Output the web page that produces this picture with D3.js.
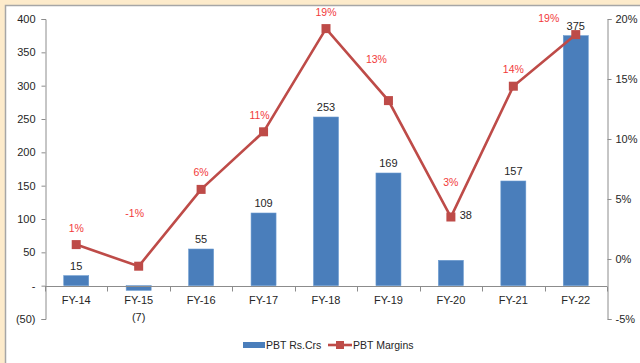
<!DOCTYPE html>
<html>
<head>
<meta charset="utf-8">
<script src="https://cdn.jsdelivr.net/npm/d3@7/dist/d3.min.js"></script>
<style>
  html, body { margin: 0; padding: 0; background: #FDEBCB; }
  svg { display: block; }
  text { font-family: "Liberation Sans", Arial, sans-serif; }
</style>
</head>
<body>
<svg id="chart" width="640" height="363"></svg>
<script>
// PBT (Rs. Crores) and PBT margin by fiscal year
const categories = ["FY-14", "FY-15", "FY-16", "FY-17", "FY-18", "FY-19", "FY-20", "FY-21", "FY-22"];
const pbtValues = [15, -7, 55, 109, 253, 169, 38, 157, 375];
const marginValues = [1.2, -0.6, 5.8, 10.6, 19.2, 13.2, 3.5, 14.4, 18.7];
const marginLabels = ["1%", "-1%", "6%", "11%", "19%", "13%", "3%", "14%", "19%"];
const leftTicks = [-50, 0, 50, 100, 150, 200, 250, 300, 350, 400];
const rightTicks = [-5, 0, 5, 10, 15, 20];
const seriesNames = ["PBT Rs.Crs", "PBT Margins"];

const svg = d3.select("#chart");
const W = 640, H = 363;
const plot = { left: 45, right: 607, top: 19, bottom: 319 };

const barColor = "#4A7EBB";
const lineColor = "#BE4B48";
const labelRed = "#F23A3A";
const axisColor = "#8C8C8C";
const textColor = "#262626";

// chart area
svg.append("rect").attr("x", 5).attr("y", 5).attr("width", W - 5).attr("height", H - 5)
  .attr("fill", "#fff");
svg.append("path").attr("d", `M5.5,${H}V5.5H${W}`).attr("fill", "none")
  .attr("stroke", "#A6A6A6").attr("stroke-width", 1.5);

const x = d3.scaleBand().domain(categories).range([plot.left, plot.right]).padding(0);
const yL = d3.scaleLinear().domain([-50, 400]).range([plot.bottom, plot.top]);
const yR = d3.scaleLinear().domain([-5, 20]).range([plot.bottom, plot.top]);

const fmtL = v => v === 0 ? "-" : v < 0 ? `(${Math.abs(v)})` : String(v);
const fmtR = v => `${v}%`;

// left axis
const gL = svg.append("g").attr("transform", `translate(${plot.left + 0.5},0)`)
  .call(d3.axisLeft(yL).tickValues(leftTicks).tickFormat(fmtL).tickSize(4).tickPadding(6));
// right axis
const gR = svg.append("g").attr("transform", `translate(${plot.right + 0.5},0)`)
  .call(d3.axisRight(yR).tickValues(rightTicks).tickFormat(fmtR).tickSize(4).tickPadding(4));
[gL, gR].forEach(g => {
  g.select(".domain").attr("stroke", axisColor);
  g.selectAll(".tick line").attr("stroke", axisColor);
  g.selectAll(".tick text").attr("fill", textColor).attr("font-size", 11);
});

// bars
const barW = x.bandwidth() * 0.4;
svg.append("g").selectAll("rect").data(categories).join("rect")
  .attr("x", (d, i) => x(d) + (x.bandwidth() - barW) / 2)
  .attr("y", (d, i) => yL(Math.max(0, pbtValues[i])))
  .attr("width", barW)
  .attr("height", (d, i) => Math.abs(yL(pbtValues[i]) - yL(0)))
  .attr("fill", barColor)
  .attr("stroke", "#6A9AD0").attr("stroke-width", 0.6);

// category axis on the zero line
const gX = svg.append("g").attr("transform", `translate(0,${Math.round(yL(0)) + 0.5})`);
gX.append("line").attr("x1", plot.left).attr("x2", plot.right).attr("stroke", axisColor);
const bounds = categories.map(c => x(c)).concat([plot.right]);
gX.selectAll("line.tk").data(bounds).join("line").attr("class", "tk")
  .attr("x1", d => Math.round(d) + 0.5).attr("x2", d => Math.round(d) + 0.5)
  .attr("y1", 0).attr("y2", 5).attr("stroke", axisColor);
gX.selectAll("text").data(categories).join("text")
  .attr("x", d => x(d) + x.bandwidth() / 2).attr("y", 17)
  .attr("text-anchor", "middle").attr("font-size", 11).attr("fill", textColor)
  .text(d => d);

// bar value labels; a few are nudged to keep clear of the line
const barLabelShift = { "FY-15": [0, 41], "FY-20": [15, -35] };
svg.append("g").selectAll("text").data(categories).join("text")
  .attr("x", (d, i) => x(d) + x.bandwidth() / 2 + (barLabelShift[d] ? barLabelShift[d][0] : 0))
  .attr("y", (d, i) => yL(Math.max(0, pbtValues[i])) - 6 + (barLabelShift[d] ? barLabelShift[d][1] : 0))
  .attr("text-anchor", "middle").attr("font-size", 11).attr("fill", textColor)
  .text((d, i) => pbtValues[i] < 0 ? `(${Math.abs(pbtValues[i])})` : pbtValues[i]);

// margin line
const cx = d => x(d) + x.bandwidth() / 2;
const line = d3.line().x((d, i) => cx(categories[i])).y(d => yR(d));
svg.append("path").datum(marginValues).attr("d", line)
  .attr("fill", "none").attr("stroke", lineColor).attr("stroke-width", 2.6);
svg.append("g").selectAll("rect").data(marginValues).join("rect")
  .attr("x", (d, i) => cx(categories[i]) - 4.5).attr("y", d => yR(d) - 4.5)
  .attr("width", 9).attr("height", 9).attr("fill", lineColor);

// margin labels
const marginLabelShift = { "FY-15": [-4, -36], "FY-19": [-12, -25], "FY-22": [-27, 0], "FY-17": [-4, 0], "FY-20": [0, -18] };
svg.append("g").selectAll("text").data(categories).join("text")
  .attr("x", (d, i) => cx(d) + (marginLabelShift[d] ? marginLabelShift[d][0] : 0))
  .attr("y", (d, i) => yR(marginValues[i]) - 13 + (marginLabelShift[d] ? marginLabelShift[d][1] : 0))
  .attr("text-anchor", "middle").attr("font-size", 10.5).attr("fill", labelRed)
  .text((d, i) => marginLabels[i]);

// legend
const lg = svg.append("g");
lg.append("rect").attr("x", 243).attr("y", 342).attr("width", 22).attr("height", 6).attr("fill", barColor);
lg.append("text").attr("x", 266).attr("y", 349).attr("font-size", 10.5).attr("fill", textColor).text(seriesNames[0]);
lg.append("line").attr("x1", 328).attr("x2", 352).attr("y1", 345).attr("y2", 345)
  .attr("stroke", lineColor).attr("stroke-width", 2.6);
lg.append("rect").attr("x", 336).attr("y", 341).attr("width", 8).attr("height", 8).attr("fill", lineColor);
lg.append("text").attr("x", 353).attr("y", 349).attr("font-size", 10.5).attr("fill", textColor).text(seriesNames[1]);
</script>
</body>
</html>
